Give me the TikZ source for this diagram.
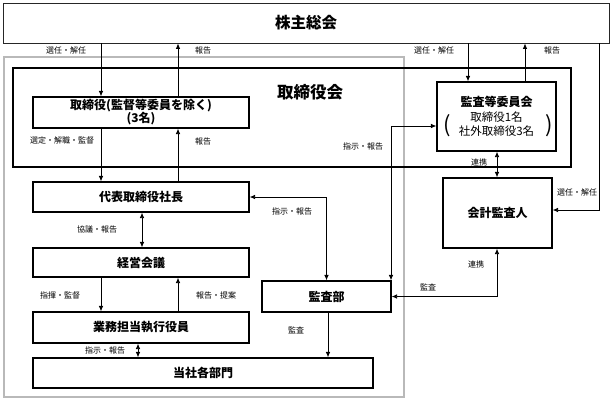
\documentclass[tikz,border=0pt]{standalone}
\usepackage{fontspec}
\setmainfont{Noto Sans CJK JP}
\usetikzlibrary{arrows.meta,calc}
\begin{document}
\begin{tikzpicture}[x=1pt,y=-1pt,
  box/.style={draw=black, line width=1.1pt, fill=white, inner sep=0pt, font=\fontsize{12}{14}\selectfont\bfseries},
  lbl/.style={inner sep=0pt, font=\fontsize{8}{9}\selectfont},
  arr/.style={line width=0.8pt, -{Latex[length=5.5pt,width=4.5pt]}},
  arrb/.style={line width=0.8pt, {Latex[length=5.5pt,width=4.5pt]}-{Latex[length=5.5pt,width=4.5pt]}}]
\useasboundingbox (0,0) rectangle (612,399);
% columns and rows
\coordinate (cL) at (101,0);
\coordinate (cR) at (178,0);
\coordinate (cM) at (142,0);
\coordinate (cE) at (138,0);
\coordinate (cAu) at (328,0);
\coordinate (cV) at (391,0);
\coordinate (cA1) at (468,0);
\coordinate (cA2) at (525,0);
\coordinate (cX) at (497,0);
\coordinate (cRt) at (599,0);
\coordinate (yAcc) at (0,126);
\coordinate (yExt) at (0,210);
% frames
\node[draw=gray!55, line width=1.4pt, minimum width=400pt, minimum height=340pt, inner sep=0pt] (grp) at (204,227) {};
\node[draw=black!85, line width=0.8pt, minimum width=606pt, minimum height=40pt, inner sep=0pt, font=\fontsize{15.5}{17}\selectfont\bfseries] (top) at (306,23) {株主総会};
\node[draw=black, line width=1.2pt, minimum width=558pt, minimum height=99pt, inner sep=0pt] (board) at (292,117.5) {};
\node[inner sep=0pt, font=\fontsize{16.5}{18}\selectfont\bfseries] (boardlbl) at (310,92) {取締役会};
% boxes
\node[box, minimum width=216pt, minimum height=31pt, align=center] (dir) at (141,112.5) {取締役(監督等委員を除く)\\[-1pt](3名)};
\node[box, minimum width=216pt, minimum height=30pt] (ceo) at (141,197) {代表取締役社長};
\node[box, minimum width=216pt, minimum height=29pt] (mtg) at (141,262.5) {経営会議};
\node[box, minimum width=216pt, minimum height=31pt] (exec) at (141,327.5) {業務担当執行役員};
\node[box, minimum width=340pt, minimum height=30pt] (dept) at (203,373) {当社各部門};
\node[box, minimum width=129pt, minimum height=31pt] (audit) at (326.5,296.5) {監査部};
\node[box, minimum width=119pt, minimum height=69pt] (acc) at (496.5,116.5) {};
\node[inner sep=0pt, font=\fontsize{12}{14}\selectfont\bfseries] (acc1) at (496.5,102) {監査等委員会};
\node[inner sep=0pt, font=\fontsize{11.5}{13}\selectfont] (acc2) at (496.5,117) {取締役1名};
\node[inner sep=0pt, font=\fontsize{11.5}{13}\selectfont] (acc3) at (496.5,131) {社外取締役3名};
\node[inner sep=0pt, font=\fontsize{22}{22}\selectfont] (accpl) at (447,126) {(};
\node[inner sep=0pt, font=\fontsize{22}{22}\selectfont] (accpr) at (549,126) {)};
\node[box, minimum width=109pt, minimum height=70pt] (ext) at (497.5,213) {会計監査人};
% connectors
\draw[arr] (top.south -| cL) -- (dir.north -| cL);
\draw[arr] (dir.north -| cR) -- (top.south -| cR);
\draw[arr] (top.south -| cA1) -- (acc.north -| cA1);
\draw[arr] (acc.north -| cA2) -- (top.south -| cA2);
\draw[arr] (dir.south -| cL) -- (ceo.north -| cL);
\draw[arr] (ceo.north -| cR) -- (dir.south -| cR);
\draw[arrb] (ceo.south -| cM) -- (mtg.north -| cM);
\draw[arr] (mtg.south -| cL) -- (exec.north -| cL);
\draw[arr] (exec.north -| cR) -- (mtg.south -| cR);
\draw[arrb] (exec.south -| cE) -- (dept.north -| cE);
\draw[arr] (audit.south -| cAu) -- (dept.north -| cAu);
\draw[arrb] (ceo.east) -| (audit.north);
\draw[arrb] (audit.north -| cV) |- (acc.west |- yAcc);
\draw[arrb] (acc.south -| cX) -- (ext.north -| cX);
\draw[arr] (top.south -| cRt) |- (ext.east |- yExt);
\draw[arrb] (ext.south -| cX) |- (audit.east);
% labels
\node[lbl] (l1) at (66,50) {選任・解任};
\node[lbl] (l2) at (203,50) {報告};
\node[lbl] (l3) at (434,50) {選任・解任};
\node[lbl] (l4) at (552,50) {報告};
\node[lbl] (l5) at (62,140) {選定・解職・監督};
\node[lbl] (l6) at (203,141) {報告};
\node[lbl] (l7) at (97,229) {協議・報告};
\node[lbl] (l8) at (60,295) {指揮・監督};
\node[lbl] (l9) at (216,295) {報告・提案};
\node[lbl] (l10) at (105,350) {指示・報告};
\node[lbl] (l11) at (296,330) {監査};
\node[lbl] (l12) at (292,211) {指示・報告};
\node[lbl] (l13) at (363,146) {指示・報告};
\node[lbl] (l14) at (479,162) {連携};
\node[lbl] (l15) at (577,192) {選任・解任};
\node[lbl] (l16) at (476,264) {連携};
\node[lbl] (l17) at (428,287) {監査};
\end{tikzpicture}
\end{document}
